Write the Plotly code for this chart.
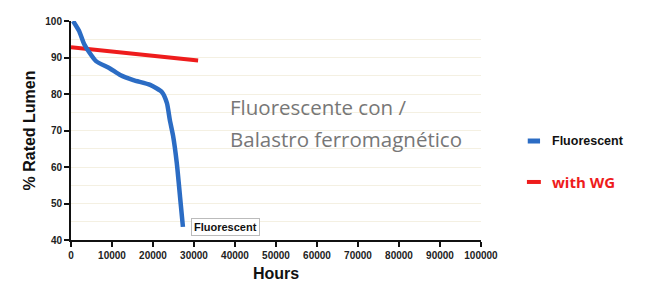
import plotly.graph_objects as go

# Data
fluor_hours = [500, 1950, 3200, 4400, 6100, 9500, 12000, 15200, 19300, 22200, 23400, 24100, 24900, 25800, 26600, 27300]
fluor_lumen = [100, 97.3, 93.7, 91.5, 89.0, 87, 85.2, 83.8, 82.5, 80.5, 77.5, 72.9, 68.5, 61.1, 51.8, 43.6]
wg_hours = [0, 31000]
wg_lumen = [92.8, 89.2]
x_ticks = list(range(0, 100001, 10000))
y_ticks = list(range(40, 101, 10))

BLUE = "#2b6cc4"
RED = "#ee1c1c"

fig = go.Figure()
fig.add_trace(go.Scatter(x=wg_hours, y=wg_lumen, mode="lines", name="with WG",
                         line=dict(color=RED, width=4)))
fig.add_trace(go.Scatter(x=fluor_hours, y=fluor_lumen, mode="lines", name="Fluorescent",
                         line=dict(color=BLUE, width=4.5, shape="spline", smoothing=0.6)))

tickfont = dict(family="Liberation Sans, Arial", size=10, color="#222", weight="bold")
fig.update_xaxes(range=[0, 100000], tickvals=x_ticks, ticktext=[str(v) for v in x_ticks],
                 showline=True, linecolor="#111", linewidth=2, ticks="outside", ticklen=5,
                 tickwidth=2, tickcolor="#111", tickfont=tickfont, showgrid=False, zeroline=False,
                 automargin=False,
                 title=dict(text="Hours", font=dict(family="Liberation Sans, Arial", size=16, color="#111", weight="bold"), standoff=8))
fig.update_yaxes(range=[40, 100], tickvals=y_ticks, ticktext=[str(v) for v in y_ticks],
                 showline=True, linecolor="#111", linewidth=2, ticks="outside", ticklen=5,
                 tickwidth=2, tickcolor="#111", tickfont=tickfont, zeroline=False,
                 automargin=False, showgrid=False,
                 minor=dict(dtick=5, tick0=40, showgrid=True, gridcolor="#f4f0e2", ticks=""),
                 title=dict(text="% Rated Lumen", font=dict(family="Liberation Sans, Arial", size=16, color="#111", weight="bold"), standoff=6))

fig.add_annotation(x=fluor_hours[-1], y=fluor_lumen[-1], xref="x", yref="y",
                   text="Fluorescent", showarrow=False, xanchor="left", yanchor="middle",
                   xshift=8, yshift=0,
                   font=dict(family="Liberation Sans, Arial", size=11, color="#111", weight="bold"),
                   bgcolor="white", bordercolor="#bbb", borderwidth=1, borderpad=2)

txtfont = dict(family="Open Sans", size=20.5, color="#777")
fig.add_annotation(x=0.383, y=0.607, xref="paper", yref="paper", text="Fluorescente con /",
                   showarrow=False, xanchor="left", yanchor="middle", font=txtfont)
fig.add_annotation(x=0.383, y=0.461, xref="paper", yref="paper", text="Balastro ferromagnético",
                   showarrow=False, xanchor="left", yanchor="middle", font=txtfont)

# Custom legend
fig.add_shape(type="line", xref="paper", yref="paper", x0=1.114, x1=1.144, y0=0.452, y1=0.452,
              line=dict(color=BLUE, width=5))
fig.add_annotation(x=1.168, y=0.452, xref="paper", yref="paper", text="Fluorescent", showarrow=False,
                   xanchor="left", yanchor="middle",
                   font=dict(family="Liberation Sans, Arial", size=12.5, color="#111", weight="bold"))
fig.add_shape(type="line", xref="paper", yref="paper", x0=1.112, x1=1.146, y0=0.265, y1=0.265,
              line=dict(color=RED, width=4))
fig.add_annotation(x=1.168, y=0.265, xref="paper", yref="paper", text="with WG", showarrow=False,
                   xanchor="left", yanchor="middle",
                   font=dict(family="Open Sans", size=15, color=RED, weight="bold"))

# page body has an 8px default margin, so the figure is 8px smaller and offset
fig.update_layout(width=648, height=276, margin=dict(l=63, r=175, t=13, b=44),
                  paper_bgcolor="white", plot_bgcolor="white", showlegend=False)
fig.write_html("out.html")
